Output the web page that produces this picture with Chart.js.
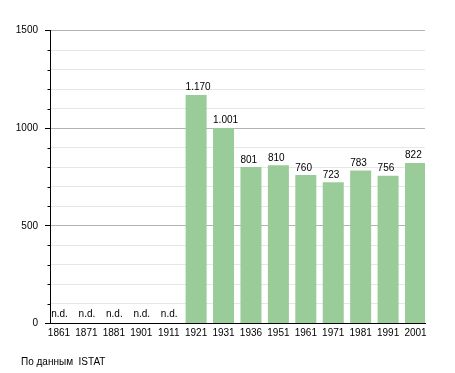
<!DOCTYPE html>
<html>
<head>
<meta charset="utf-8">
<script src="https://cdn.jsdelivr.net/npm/chart.js@4"></script>
<style>
  html, body { margin: 0; padding: 0; background: #fff; }
  #c { display: block; }
</style>
</head>
<body>
<canvas id="c" width="455" height="373"></canvas>
<script>
const years = ['1861','1871','1881','1901','1911','1921','1931','1936','1951','1961','1971','1981','1991','2001'];
const population = [null, null, null, null, null, 1170, 1001, 801, 810, 760, 723, 783, 756, 822];
const yMajorTicks = [0, 500, 1000, 1500];
const missingLabel = 'n.d.';
const sourceNote = 'По данным  ISTAT';

Chart.defaults.font.family = "'Liberation Sans', Arial, sans-serif";
Chart.defaults.font.size = 10;
Chart.defaults.color = '#000';

function fmt(v) {
  return String(v).replace(/\B(?=(\d{3})+(?!\d))/g, '.');
}

const labelPlugin = {
  id: 'labelPlugin',
  afterDatasetsDraw(chart) {
    const ctx = chart.ctx;
    const meta = chart.getDatasetMeta(0);
    const yScale = chart.scales.y;
    const zeroY = yScale.getPixelForValue(0);
    ctx.save();
    ctx.font = "10px 'Liberation Sans', Arial, sans-serif";
    ctx.fillStyle = '#000';
    ctx.textBaseline = 'alphabetic';
    const xScale = chart.scales.x;
    population.forEach((v, i) => {
      const el = meta.data[i];
      const cx = xScale.getPixelForValue(i);
      if (v === null) {
        ctx.textAlign = 'center';
        ctx.fillText(missingLabel, cx + 0.5, zeroY - 7);
      } else {
        ctx.textAlign = 'left';
        ctx.fillText(fmt(v), el.x - el.width / 2, el.y - 4.5);
      }
    });
    // minor tick marks
    ctx.strokeStyle = '#000';
    ctx.lineWidth = 1;
    for (let t = 100; t < 1500; t += 100) {
      if (yMajorTicks.includes(t)) continue;
      const py = Math.round(yScale.getPixelForValue(t)) + 0.5;
      ctx.beginPath();
      ctx.moveTo(chart.chartArea.left - 2.5, py);
      ctx.lineTo(chart.chartArea.left, py);
      ctx.stroke();
    }
    ctx.restore();
  },
  afterDraw(chart) {
    const ctx = chart.ctx;
    ctx.save();
    ctx.font = "10px 'Liberation Sans', Arial, sans-serif";
    ctx.fillStyle = '#000';
    ctx.textAlign = 'left';
    ctx.textBaseline = 'alphabetic';
    ctx.fillText(sourceNote, 21, 365);
    ctx.restore();
  }
};

new Chart(document.getElementById('c'), {
  type: 'bar',
  data: {
    datasets: [{
      data: years.map((y, i) => ({ x: i, y: population[i] })),
      backgroundColor: '#99cc99',
      borderWidth: 0,
      barPercentage: 0.766,
      categoryPercentage: 1
    }]
  },
  options: {
    responsive: false,
    animation: false,
    layout: { padding: { left: 0, right: 30, top: 30.5, bottom: 0 } },
    plugins: { legend: { display: false }, tooltip: { enabled: false } },
    scales: {
      x: {
        type: 'linear',
        offset: false,
        min: -0.328,
        max: 13.346,
        afterBuildTicks(scale) {
          scale.ticks = years.map((_, i) => ({ value: i }));
        },
        afterFit(scale) { scale.height = 49.5; },
        grid: { display: false, drawTicks: false, tickLength: 0 },
        border: { display: true, color: '#000', width: 1 },
        ticks: {
          autoSkip: false,
          maxRotation: 0,
          padding: 4,
          callback: (v) => years[v] ?? ''
        }
      },
      y: {
        min: 0,
        max: 1500,
        afterFit(scale) { scale.width = 50; },
        afterBuildTicks(scale) {
          const t = [];
          for (let v = 0; v <= 1500; v += 100) t.push({ value: v });
          scale.ticks = t;
        },
        border: { display: true, color: '#000', width: 1 },
        grid: {
          color: (c) => (c.tick && yMajorTicks.includes(c.tick.value)) ? '#b3b3b3' : '#e6e6e6',
          tickColor: (c) => (c.tick && yMajorTicks.includes(c.tick.value)) ? '#000' : 'rgba(0,0,0,0)',
          tickLength: 5
        },
        ticks: {
          autoSkip: false,
          padding: 7,
          callback: (v) => yMajorTicks.includes(v) ? String(v) : ''
        }
      }
    }
  },
  plugins: [labelPlugin]
});
</script>
</body>
</html>
